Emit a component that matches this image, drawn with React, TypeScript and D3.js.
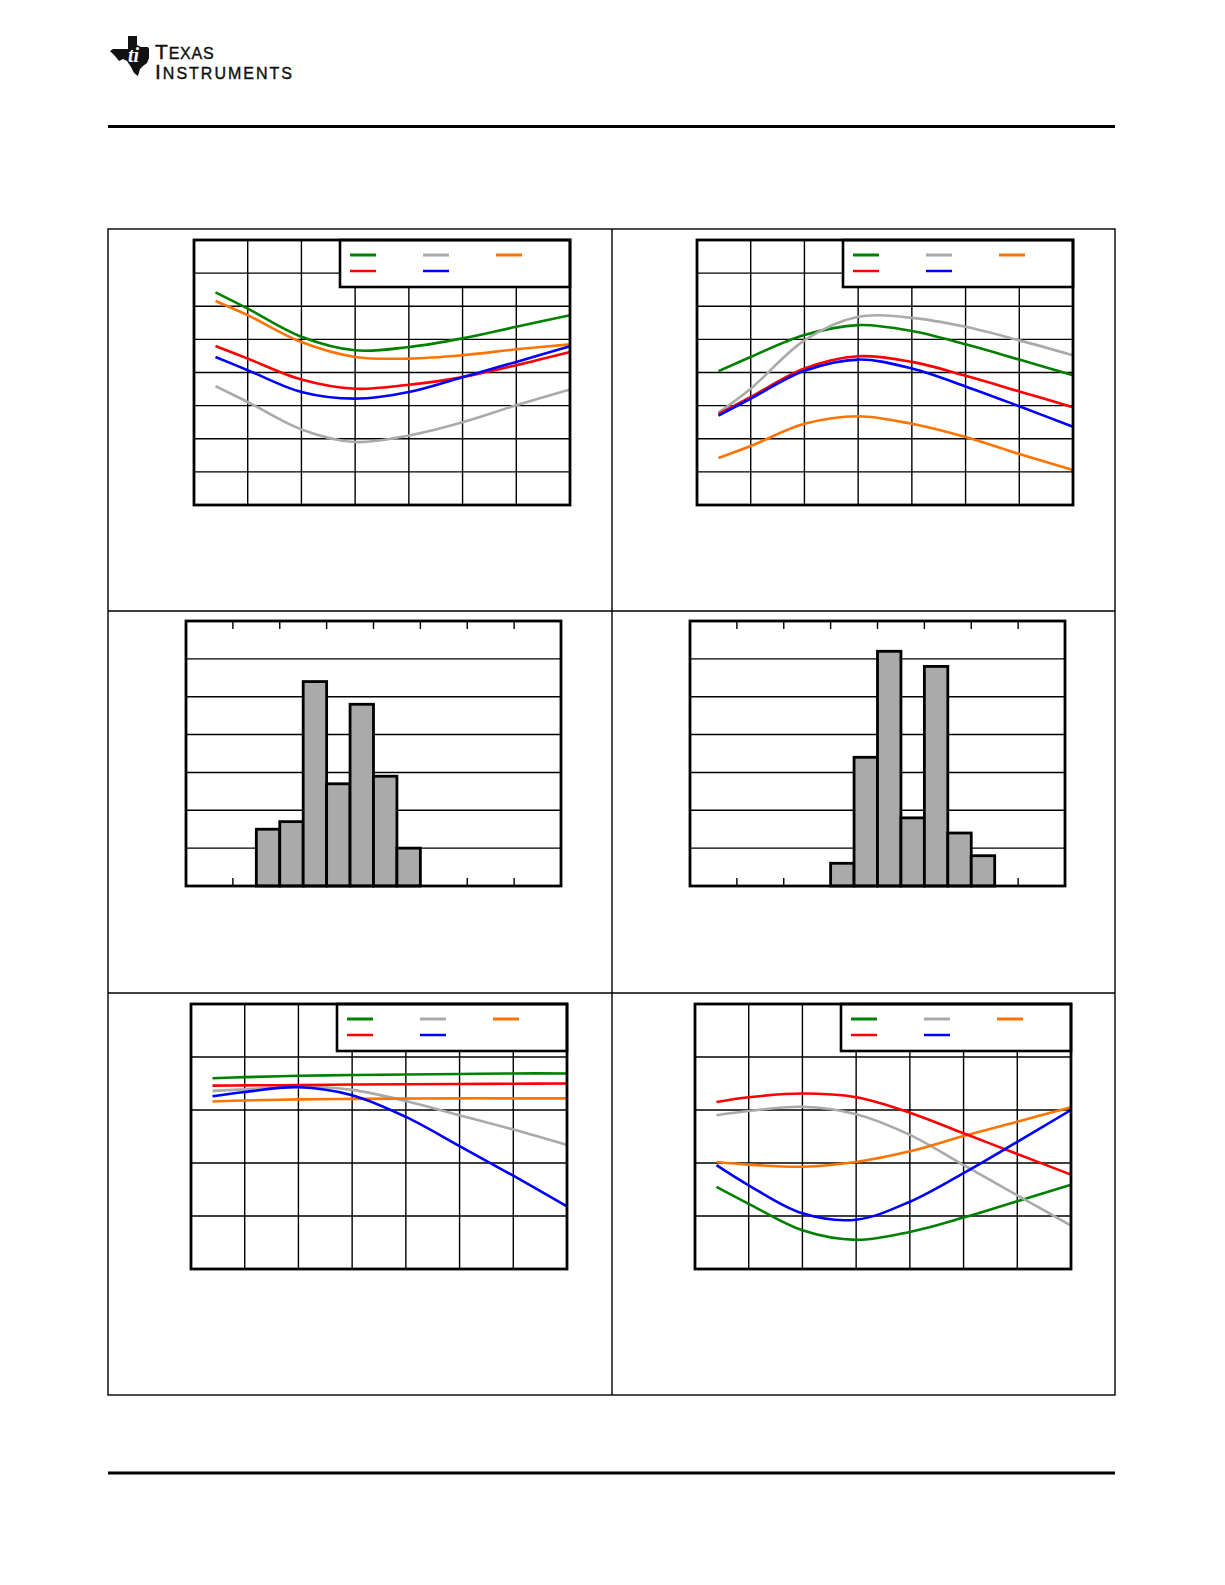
import * as d3 from 'd3'
import React from 'react'

// temperature points (°C) shared by the four line panels
const temps = [-40, -25, 0, 25, 50, 75, 100, 125]

// panel 1 (top left) - values in grid divisions
const p1Green = [6.42, 5.93, 5.08, 4.67, 4.77, 5.03, 5.38, 5.73]
const p1Gray = [3.59, 3.11, 2.28, 1.9, 2.1, 2.5, 3.01, 3.49]
const p1Orange = [6.16, 5.73, 4.92, 4.47, 4.42, 4.52, 4.7, 4.85]
const p1Red = [4.8, 4.42, 3.79, 3.51, 3.63, 3.86, 4.22, 4.62]
const p1Blue = [4.47, 4.07, 3.41, 3.21, 3.41, 3.86, 4.32, 4.79]

// panel 2 (top right)
const p2Green = [4.04, 4.47, 5.13, 5.43, 5.25, 4.85, 4.39, 3.92]
const p2Gray = [2.79, 3.51, 4.97, 5.68, 5.65, 5.38, 4.97, 4.52]
const p2Orange = [1.42, 1.78, 2.45, 2.68, 2.45, 2.05, 1.54, 1.06]
const p2Red = [2.75, 3.26, 4.12, 4.49, 4.32, 3.9, 3.43, 2.95]
const p2Blue = [2.7, 3.21, 4.05, 4.39, 4.12, 3.58, 2.98, 2.36]

// panel 5 (bottom left)
const p5Green = [3.6, 3.62, 3.645, 3.66, 3.67, 3.68, 3.69, 3.69]
const p5Gray = [3.36, 3.39, 3.44, 3.38, 3.17, 2.9, 2.63, 2.34]
const p5Orange = [3.16, 3.18, 3.2, 3.21, 3.215, 3.22, 3.22, 3.22]
const p5Red = [3.46, 3.465, 3.47, 3.48, 3.485, 3.49, 3.495, 3.5]
const p5Blue = [3.26, 3.34, 3.43, 3.28, 2.87, 2.32, 1.76, 1.18]

// panel 6 (bottom right)
const p6Green = [1.55, 1.23, 0.73, 0.55, 0.7, 0.97, 1.28, 1.59]
const p6Gray = [2.9, 2.98, 3.06, 2.92, 2.53, 1.96, 1.39, 0.82]
const p6Orange = [2.02, 1.97, 1.93, 2.02, 2.22, 2.51, 2.78, 3.05]
const p6Red = [3.15, 3.24, 3.31, 3.24, 2.95, 2.56, 2.17, 1.78]
const p6Blue = [1.96, 1.58, 1.05, 0.93, 1.27, 1.81, 2.4, 3.0]

// histograms: bin index and percentage of units
const h1Bins = [3, 4, 5, 6, 7, 8, 9]
const h1Pct = [7.5, 8.5, 27, 13.5, 24, 14.5, 5]
const h2Bins = [6, 7, 8, 9, 10, 11, 12]
const h2Pct = [3, 17, 31, 9, 29, 7, 4]

const GREEN = '#008000'
const GRAY = '#aaaaaa'
const ORANGE = '#ff7300'
const RED = '#ff0000'
const BLUE = '#0000ff'

const LinePanel = ({ left, top, rows, series }: any) => {
  const width = 376
  const height = 265
  const x = d3.scaleLinear().domain([-50, 125]).range([left, left + width])
  const y = d3.scaleLinear().domain([0, rows]).range([top + height, top])
  const line = d3
    .line<number>()
    .x((d, i) => x(temps[i]))
    .y((d) => y(d))
    .curve(d3.curveCatmullRom.alpha(0.5))

  const lx = left + 146
  const lw = left + width - lx
  const lh = 47
  const legend = [
    { c: series[0].color, col: 0, row: 0 },
    { c: series[1].color, col: 1, row: 0 },
    { c: series[2].color, col: 2, row: 0 },
    { c: series[3].color, col: 0, row: 1 },
    { c: series[4].color, col: 1, row: 1 },
  ]

  return (
    <g>
      {d3.range(-25, 125, 25).map((t) => (
        <line key={'v' + t} x1={x(t)} x2={x(t)} y1={top} y2={top + height} stroke="#000" strokeWidth={1.4} />
      ))}
      {d3.range(1, rows).map((r) => (
        <line key={'h' + r} x1={left} x2={left + width} y1={y(r)} y2={y(r)} stroke="#000" strokeWidth={1.4} />
      ))}
      {series.map((s: any, i: number) => (
        <path key={i} d={line(s.values) as string} fill="none" stroke={s.color} strokeWidth={2.6} />
      ))}
      <rect x={lx} y={top} width={lw} height={lh} fill="#fff" stroke="#000" strokeWidth={2.6} />
      {legend.map((l, i) => (
        <line
          key={i}
          x1={lx + 10 + l.col * 73}
          x2={lx + 36 + l.col * 73}
          y1={top + 15 + l.row * 16}
          y2={top + 15 + l.row * 16}
          stroke={l.c}
          strokeWidth={l.row === 0 ? 3 : 2.5}
        />
      ))}
      <rect x={left} y={top} width={width} height={height} fill="none" stroke="#000" strokeWidth={2.8} />
    </g>
  )
}

const HistPanel = ({ left, top, bins, pct }: any) => {
  const width = 375
  const height = 265
  const x = d3.scaleLinear().domain([0, 16]).range([left, left + width])
  const y = d3.scaleLinear().domain([0, 35]).range([top + height, top])
  const ticks = d3.range(2, 16, 2)
  return (
    <g>
      {d3.range(5, 35, 5).map((v) => (
        <line key={'h' + v} x1={left} x2={left + width} y1={y(v)} y2={y(v)} stroke="#000" strokeWidth={1.4} />
      ))}
      {ticks.map((t) => (
        <g key={'t' + t}>
          <line x1={x(t)} x2={x(t)} y1={top} y2={top + 8} stroke="#000" strokeWidth={1.4} />
          <line x1={x(t)} x2={x(t)} y1={top + height} y2={top + height - 8} stroke="#000" strokeWidth={1.4} />
        </g>
      ))}
      {bins.map((b: number, i: number) => (
        <rect
          key={b}
          x={x(b)}
          y={y(pct[i])}
          width={x(b + 1) - x(b)}
          height={y(0) - y(pct[i])}
          fill="#aaaaaa"
          stroke="#000"
          strokeWidth={2.8}
        />
      ))}
      <rect x={left} y={top} width={width} height={height} fill="none" stroke="#000" strokeWidth={2.8} />
    </g>
  )
}

const mk = (g: number[], gr: number[], o: number[], r: number[], b: number[]) => [
  { color: GREEN, values: g },
  { color: GRAY, values: gr },
  { color: ORANGE, values: o },
  { color: RED, values: r },
  { color: BLUE, values: b },
]

const Logo = () => (
  <g>
    <path
      transform="translate(110,36)"
      d="M18,0 L27,0 L27,9 L31,11 L38,11 L39,13 L39,22 L37,27 L33,30 L30,33 L28,40 L24,37 L21,31 L17,25 L13,23 L9,25 L5,20 L0,15 L3,13 L18,13 Z"
      fill="#111"
    />
    <text x={128} y={62} fontFamily="'Liberation Serif', serif" fontStyle="italic" fontWeight="bold" fontSize={20} fill="#fff">
      ti
    </text>
    <text fontFamily="'Liberation Sans', sans-serif" fill="#111" stroke="#111" strokeWidth={0.4}>
      <tspan x={155} y={59} fontSize={21} letterSpacing={0.8}>T</tspan>
      <tspan fontSize={16} letterSpacing={0.8}>EXAS</tspan>
      <tspan x={155} y={79} fontSize={21} letterSpacing={2}>I</tspan>
      <tspan fontSize={16} letterSpacing={2}>NSTRUMENTS</tspan>
    </text>
  </g>
)

export default function App() {
  return (
    <svg width={1225} height={1585} style={{ position: 'absolute', left: 0, top: 0, background: '#fff' }}>
      <rect width={1225} height={1585} fill="#fff" />
      <Logo />
      <line x1={108} x2={1115} y1={126.5} y2={126.5} stroke="#000" strokeWidth={3.2} />
      <line x1={108} x2={1115} y1={1473} y2={1473} stroke="#000" strokeWidth={3.2} />

      <rect x={108} y={229} width={1007} height={1166} fill="none" stroke="#000" strokeWidth={1.4} />
      <line x1={612} x2={612} y1={229} y2={1395} stroke="#000" strokeWidth={1.4} />
      <line x1={108} x2={1115} y1={611} y2={611} stroke="#000" strokeWidth={1.4} />
      <line x1={108} x2={1115} y1={993} y2={993} stroke="#000" strokeWidth={1.4} />

      <LinePanel left={194} top={240} rows={8} series={mk(p1Green, p1Gray, p1Orange, p1Red, p1Blue)} />
      <LinePanel left={697} top={240} rows={8} series={mk(p2Green, p2Gray, p2Orange, p2Red, p2Blue)} />
      <HistPanel left={186} top={621} bins={h1Bins} pct={h1Pct} />
      <HistPanel left={690} top={621} bins={h2Bins} pct={h2Pct} />
      <LinePanel left={191} top={1004} rows={5} series={mk(p5Green, p5Gray, p5Orange, p5Red, p5Blue)} />
      <LinePanel left={695} top={1004} rows={5} series={mk(p6Green, p6Gray, p6Orange, p6Red, p6Blue)} />
    </svg>
  )
}
